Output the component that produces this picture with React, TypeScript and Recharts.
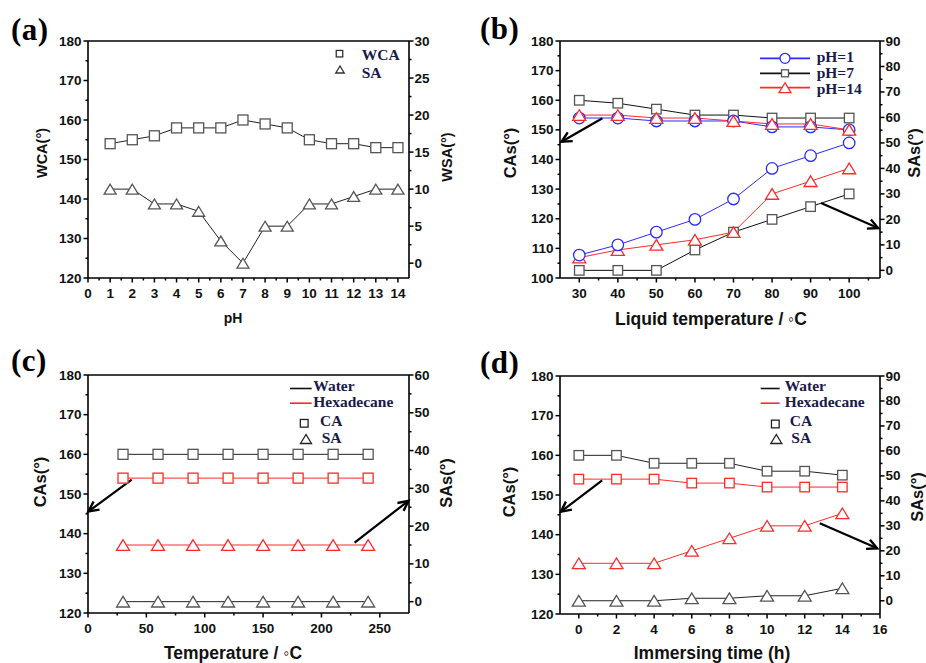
import React from "react";
import { LineChart, Line, XAxis, YAxis, ReferenceLine, Legend, Label } from "recharts";

// (a) pH
const phLevels = [1, 2, 3, 4, 5, 6, 7, 8, 9, 10, 11, 12, 13, 14];
const wcaByPh = [154, 155, 156, 158, 158, 158, 160, 159, 158, 155, 154, 154, 153, 153];
const saByPh = [10, 10, 8, 8, 7, 3, 0, 5, 5, 8, 8, 9, 10, 10];

// (b) liquid temperature
const liquidTemps = [30, 40, 50, 60, 70, 80, 90, 100];
const caPh1 = [154, 154, 153, 153, 153, 151, 151, 150];
const caPh7 = [160, 159, 157, 155, 155, 154, 154, 154];
const caPh14 = [155, 155, 154, 154, 153, 152, 152, 150];
const saPh1 = [6, 10, 15, 20, 28, 40, 45, 50];
const saPh7 = [0, 0, 0, 8, 15, 20, 25, 30];
const saPh14 = [5, 8, 10, 12, 15, 30, 35, 40];

// (c) temperature
const heatTemps = [30, 60, 90, 120, 150, 180, 210, 240];
const caWaterHeat = [160, 160, 160, 160, 160, 160, 160, 160];
const caHexHeat = [154, 154, 154, 154, 154, 154, 154, 154];
const saWaterHeat = [0, 0, 0, 0, 0, 0, 0, 0];
const saHexHeat = [15, 15, 15, 15, 15, 15, 15, 15];

// (d) immersing time
const immerseHours = [0, 2, 4, 6, 8, 10, 12, 14];
const caWaterTime = [160, 160, 158, 158, 158, 156, 156, 155];
const caHexTime = [154, 154, 154, 153, 153, 152, 152, 152];
const saWaterTime = [0, 0, 0, 1, 1, 2, 2, 5];
const saHexTime = [15, 15, 15, 20, 25, 30, 30, 35];

// tick labels (majors)
const xTicksA = [0, 1, 2, 3, 4, 5, 6, 7, 8, 9, 10, 11, 12, 13, 14];
const caTicks120 = [120, 130, 140, 150, 160, 170, 180];
const wsaTicksA = [0, 5, 10, 15, 20, 25, 30];
const xTicksB = [30, 40, 50, 60, 70, 80, 90, 100];
const caTicks100 = [100, 110, 120, 130, 140, 150, 160, 170, 180];
const saTicks90 = [0, 10, 20, 30, 40, 50, 60, 70, 80, 90];
const xTicksC = [0, 50, 100, 150, 200, 250];
const saTicks60 = [0, 10, 20, 30, 40, 50, 60];
const xTicksD = [0, 2, 4, 6, 8, 10, 12, 14, 16];

// annotation arrows [x1, y1, x2, y2] in data units
const arrowsB = { ca: [36, 153.9, 25.4, 146], sa: [92.7, 26.4, 107.5, 16.6] };
const arrowsC = { ca: [37.4, 153.6, 0.4, 145.6], sa: [228.4, 15.6, 274.5, 26.7] };
const arrowsD = { ca: [1.24, 153.7, -0.95, 145.8], sa: [12.8, 31, 15.85, 21] };

const SANS = '"Liberation Sans", Arial, sans-serif';
const SERIF = '"Liberation Serif", "Times New Roman", serif';
const INK = "#111";
const LEGEND_INK = "#1a1a4a";
const BLUE = "#2b2bff";
const RED = "#ff2a2a";
const GRAY = "#555";

const withMinors = (majors: number[]) => {
  const out = [...majors];
  for (let i = 0; i < majors.length - 1; i++) out.push((majors[i] + majors[i + 1]) / 2);
  return out;
};

const rowsA = phLevels.map((ph, i) => ({ ph, wca: wcaByPh[i], sa: saByPh[i] }));
const rowsB = liquidTemps.map((t, i) => ({
  t,
  ca1: caPh1[i],
  ca7: caPh7[i],
  ca14: caPh14[i],
  sa1: saPh1[i],
  sa7: saPh7[i],
  sa14: saPh14[i],
}));
const rowsC = heatTemps.map((t, i) => ({
  t,
  caW: caWaterHeat[i],
  caH: caHexHeat[i],
  saW: saWaterHeat[i],
  saH: saHexHeat[i],
}));
const rowsD = immerseHours.map((h, i) => ({
  h,
  caW: caWaterTime[i],
  caH: caHexTime[i],
  saW: saWaterTime[i],
  saH: saHexTime[i],
}));

type Shape = "square" | "triangle" | "circle";

function marker(shape: Shape, cx: number, cy: number, color: string, size: number, key?: string) {
  if (shape === "square")
    return (
      <rect key={key} x={cx - size / 2} y={cy - size / 2} width={size} height={size}
        fill="#fff" stroke={color} strokeWidth={1.3} />
    );
  if (shape === "circle")
    return <circle key={key} cx={cx} cy={cy} r={size / 2} fill="#fff" stroke={color} strokeWidth={1.3} />;
  const h = size * 0.82;
  return (
    <polygon key={key}
      points={`${cx},${cy - h / 2} ${cx - size / 2},${cy + h / 2} ${cx + size / 2},${cy + h / 2}`}
      fill="#fff" stroke={color} strokeWidth={1.3} strokeLinejoin="miter" />
  );
}

const dot = (shape: Shape, color: string, size: number) => (p: any) =>
  marker(shape, p.cx, p.cy, color, size, `${shape}-${p.index}`);

function axisTick(side: "left" | "right" | "bottom", majors: number[]) {
  return (p: any) => {
    const { x, y, payload } = p;
    const v = payload.value;
    const major = majors.includes(v);
    const len = major ? 4.5 : 2.5;
    const txt = { fontFamily: SANS, fontWeight: 700, fontSize: 13.5, fill: INK } as const;
    if (side === "bottom")
      return (
        <g>
          <line x1={x} y1={y} x2={x} y2={y + len} stroke="#000" strokeWidth={1.5} />
          {major && <text x={x} y={y + 15} textAnchor="middle" dominantBaseline="central" {...txt}>{v}</text>}
        </g>
      );
    if (side === "left")
      return (
        <g>
          <line x1={x - len} y1={y} x2={x} y2={y} stroke="#000" strokeWidth={1.5} />
          {major && <text x={x - 6.5} y={y} textAnchor="end" dominantBaseline="central" {...txt}>{v}</text>}
        </g>
      );
    return (
      <g>
        <line x1={x} y1={y} x2={x + len} y2={y} stroke="#000" strokeWidth={1.5} />
        {major && <text x={x + 5.5} y={y} textAnchor="start" dominantBaseline="central" {...txt}>{v}</text>}
      </g>
    );
  };
}

const arrowShape = (p: any) => {
  const { x1, y1, x2, y2 } = p;
  const a = Math.atan2(y2 - y1, x2 - x1);
  const h = 10;
  const w = 5;
  const bx = x2 - h * Math.cos(a);
  const by = y2 - h * Math.sin(a);
  const l = `${bx + w * Math.sin(a)},${by - w * Math.cos(a)}`;
  const r = `${bx - w * Math.sin(a)},${by + w * Math.cos(a)}`;
  return (
    <g>
      <line x1={x1} y1={y1} x2={x2} y2={y2} stroke="#000" strokeWidth={2.2} />
      <polyline points={`${l} ${x2},${y2} ${r}`} fill="none" stroke="#000" strokeWidth={2.4} strokeLinejoin="miter" />
    </g>
  );
};

const title = (text: string, cx: number, cy: number, size: number, rotate = false) => () => (
  <text x={cx} y={cy} textAnchor="middle" dominantBaseline="central"
    transform={rotate ? `rotate(-90 ${cx} ${cy})` : undefined}
    fontFamily={SANS} fontWeight={700} fontSize={size} fill={INK}>
    {text}
  </text>
);

const legendText = (x: number, y: number, s: string) => (
  <text x={x} y={y} fontFamily={SERIF} fontWeight={700} fontSize={15.5} fill={LEGEND_INK}>{s}</text>
);

const axisLine = { stroke: "#000", strokeWidth: 1.6 };
const tickCommon = { tickSize: 0, tickMargin: 0, tickLine: false, interval: 0 as const, axisLine };

function PanelLetter({ text, left, top }: { text: string; left: number; top: number }) {
  return (
    <div style={{ position: "absolute", left, top, fontFamily: SERIF, fontWeight: 700, fontSize: 31, lineHeight: "31px", color: "#000", letterSpacing: 0.5 }}>
      {text}
    </div>
  );
}

function PanelA() {
  return (
    <LineChart width={463} height={330} data={rowsA} margin={{ top: 41, right: 0, bottom: 0, left: 0 }}>
      <XAxis dataKey="ph" type="number" domain={[0, 14.5]} ticks={withMinors(xTicksA)} height={52}
        tick={axisTick("bottom", xTicksA)} {...tickCommon}>
        <Label content={title("pH", 233, 318, 14)} />
      </XAxis>
      <YAxis yAxisId="left" domain={[120, 180]} ticks={withMinors(caTicks120)} width={88}
        tick={axisTick("left", caTicks120)} {...tickCommon}>
        <Label content={title("WCA(°)", 42, 153, 14.5, true)} />
      </YAxis>
      <YAxis yAxisId="right" orientation="right" domain={[-2, 30]} ticks={withMinors(wsaTicksA)} width={54}
        tick={axisTick("right", wsaTicksA)} {...tickCommon}>
        <Label content={title("WSA(°)", 447, 157, 14.5, true)} />
      </YAxis>
      <ReferenceLine yAxisId="left" y={180} stroke="#000" strokeWidth={1.6} />
      <Line yAxisId="left" dataKey="wca" stroke="#222" strokeWidth={1} dot={dot("square", GRAY, 10)} isAnimationActive={false} />
      <Line yAxisId="right" dataKey="sa" stroke="#222" strokeWidth={1} dot={dot("triangle", GRAY, 12)} isAnimationActive={false} />
      <Legend layout="vertical" align="center" verticalAlign="middle"
        wrapperStyle={{ left: 330, top: 44, width: 80, height: 42 }}
        content={() => (
          <svg width={80} height={42} style={{ overflow: "visible" }}>
            {marker("square", 9.5, 9.7, "#333", 6.5)}
            {legendText(31.7, 15.5, "WCA")}
            {marker("triangle", 10, 25.5, "#333", 8.5)}
            {legendText(31.7, 33.5, "SA")}
          </svg>
        )} />
    </LineChart>
  );
}

function PanelB() {
  const rows: [string, Shape, number, number][] = [
    [BLUE, "circle", 12.3, 15.5],
    ["#111", "square", 27.3, 31.5],
    [RED, "triangle", 41.7, 47.5],
  ];
  const names = ["pH=1", "pH=7", "pH=14"];
  return (
    <LineChart width={463} height={330} data={rowsB} margin={{ top: 41, right: 0, bottom: 0, left: 0 }}>
      <XAxis dataKey="t" type="number" domain={[25, 108]} ticks={withMinors([...xTicksB, 110]).filter((v) => v < 108)} height={52}
        tick={axisTick("bottom", xTicksB)} {...tickCommon}>
        <Label content={title("Liquid temperature / ◦C", 248, 319, 17.5)} />
      </XAxis>
      <YAxis yAxisId="left" domain={[100, 180]} ticks={withMinors(caTicks100)} width={97}
        tick={axisTick("left", caTicks100)} {...tickCommon}>
        <Label content={title("CAs(°)", 47, 153, 16.5, true)} />
      </YAxis>
      <YAxis yAxisId="right" orientation="right" domain={[-3, 90]} ticks={withMinors(saTicks90)} width={46}
        tick={axisTick("right", saTicks90)} {...tickCommon}>
        <Label content={title("SAs(°)", 451, 153, 16.5, true)} />
      </YAxis>
      <ReferenceLine yAxisId="left" y={180} stroke="#000" strokeWidth={1.6} />
      <Line yAxisId="left" dataKey="ca7" stroke="#111" strokeWidth={1} dot={dot("square", GRAY, 9.5)} isAnimationActive={false} />
      <Line yAxisId="left" dataKey="ca1" stroke={BLUE} strokeWidth={1} dot={dot("circle", BLUE, 11.5)} isAnimationActive={false} />
      <Line yAxisId="left" dataKey="ca14" stroke={RED} strokeWidth={1} dot={dot("triangle", RED, 13)} isAnimationActive={false} />
      <Line yAxisId="right" dataKey="sa7" stroke="#111" strokeWidth={1} dot={dot("square", GRAY, 9.5)} isAnimationActive={false} />
      <Line yAxisId="right" dataKey="sa14" stroke={RED} strokeWidth={1} dot={dot("triangle", RED, 13)} isAnimationActive={false} />
      <Line yAxisId="right" dataKey="sa1" stroke={BLUE} strokeWidth={1} dot={dot("circle", BLUE, 11.5)} isAnimationActive={false} />
      <ReferenceLine yAxisId="left" ifOverflow="visible"
        segment={[{ x: arrowsB.ca[0], y: arrowsB.ca[1] }, { x: arrowsB.ca[2], y: arrowsB.ca[3] }]} shape={arrowShape} />
      <ReferenceLine yAxisId="right" ifOverflow="visible"
        segment={[{ x: arrowsB.sa[0], y: arrowsB.sa[1] }, { x: arrowsB.sa[2], y: arrowsB.sa[3] }]} shape={arrowShape} />
      <Legend layout="vertical" align="center" verticalAlign="middle"
        wrapperStyle={{ left: 290, top: 46, width: 130, height: 56 }}
        content={() => (
          <svg width={130} height={56} style={{ overflow: "visible" }}>
            {rows.map(([c, s, y, by], i) => (
              <g key={i}>
                <line x1={7} y1={y} x2={57} y2={y} stroke={c} strokeWidth={1.8} />
                {marker(s, 32, y, s === "square" ? GRAY : c, s === "circle" ? 10 : s === "square" ? 7 : 12)}
                {legendText(63.7, by, names[i])}
              </g>
            ))}
          </svg>
        )} />
    </LineChart>
  );
}

function WaterHexLegend({ lineX1, lineX2, sq, tri, textX, caX, saX }: any) {
  const d = 6;
  return (
    <svg width={140} height={76} style={{ overflow: "visible" }}>
      <line x1={lineX1} y1={8.5 + d} x2={lineX2} y2={8.5 + d} stroke="#111" strokeWidth={1.6} />
      {legendText(textX, 11 + d, "Water")}
      <line x1={lineX1} y1={23.2 + d} x2={lineX2} y2={23.2 + d} stroke={RED} strokeWidth={1.6} />
      {legendText(textX, 26.7 + d, "Hexadecane")}
      {marker("square", sq[0], sq[1] + d, "#222", 7.7)}
      {legendText(caX, 46.2 + d, "CA")}
      {marker("triangle", tri[0], tri[1] + d, "#222", 11)}
      {legendText(saX, 62.8 + d, "SA")}
    </svg>
  );
}

function PanelC() {
  return (
    <LineChart width={463} height={333} data={rowsC} margin={{ top: 45, right: 0, bottom: 0, left: 0 }}>
      <XAxis dataKey="t" type="number" domain={[0, 275]} ticks={withMinors(xTicksC)} height={50}
        tick={axisTick("bottom", xTicksC)} {...tickCommon}>
        <Label content={title("Temperature / ◦C", 233, 323, 17.5)} />
      </XAxis>
      <YAxis yAxisId="left" domain={[120, 180]} ticks={withMinors(caTicks120)} width={88}
        tick={axisTick("left", caTicks120)} {...tickCommon}>
        <Label content={title("CAs(°)", 40, 152, 16.5, true)} />
      </YAxis>
      <YAxis yAxisId="right" orientation="right" domain={[-3, 60]} ticks={withMinors(saTicks60)} width={54}
        tick={axisTick("right", saTicks60)} {...tickCommon}>
        <Label content={title("SAs(°)", 446, 153, 16.5, true)} />
      </YAxis>
      <ReferenceLine yAxisId="left" y={180} stroke="#000" strokeWidth={1.6} />
      <Line yAxisId="left" dataKey="caW" stroke="#222" strokeWidth={1} dot={dot("square", GRAY, 10)} isAnimationActive={false} />
      <Line yAxisId="left" dataKey="caH" stroke={RED} strokeWidth={1} dot={dot("square", RED, 10)} isAnimationActive={false} />
      <Line yAxisId="right" dataKey="saW" stroke="#222" strokeWidth={1} dot={dot("triangle", GRAY, 13)} isAnimationActive={false} />
      <Line yAxisId="right" dataKey="saH" stroke={RED} strokeWidth={1} dot={dot("triangle", RED, 13)} isAnimationActive={false} />
      <ReferenceLine yAxisId="left" ifOverflow="visible"
        segment={[{ x: arrowsC.ca[0], y: arrowsC.ca[1] }, { x: arrowsC.ca[2], y: arrowsC.ca[3] }]} shape={arrowShape} />
      <ReferenceLine yAxisId="right" ifOverflow="visible"
        segment={[{ x: arrowsC.sa[0], y: arrowsC.sa[1] }, { x: arrowsC.sa[2], y: arrowsC.sa[3] }]} shape={arrowShape} />
      <Legend layout="vertical" align="center" verticalAlign="middle"
        wrapperStyle={{ left: 285, top: 44, width: 140, height: 76 }}
        content={() => (
          <WaterHexLegend lineX1={5} lineX2={26.7} textX={28.3} sq={[19.2, 43.3]} tri={[21, 59]} caX={35} saX={36.7} />
        )} />
    </LineChart>
  );
}

function PanelD() {
  return (
    <LineChart width={463} height={333} data={rowsD} margin={{ top: 46, right: 0, bottom: 0, left: 0 }}>
      <XAxis dataKey="h" type="number" domain={[-1, 16]} ticks={withMinors(xTicksD)} height={49}
        tick={axisTick("bottom", xTicksD)} {...tickCommon}>
        <Label content={title("Immersing time (h)", 249, 323, 17.5)} />
      </XAxis>
      <YAxis yAxisId="left" domain={[120, 180]} ticks={withMinors(caTicks120)} width={97}
        tick={axisTick("left", caTicks120)} {...tickCommon}>
        <Label content={title("CAs(°)", 46, 162, 16.5, true)} />
      </YAxis>
      <YAxis yAxisId="right" orientation="right" domain={[-5.3, 90]} ticks={withMinors(saTicks90)} width={46}
        tick={axisTick("right", saTicks90)} {...tickCommon}>
        <Label content={title("SAs(°)", 454, 167, 16.5, true)} />
      </YAxis>
      <ReferenceLine yAxisId="left" y={180} stroke="#000" strokeWidth={1.6} />
      <Line yAxisId="left" dataKey="caW" stroke="#222" strokeWidth={1} dot={dot("square", GRAY, 9.5)} isAnimationActive={false} />
      <Line yAxisId="left" dataKey="caH" stroke={RED} strokeWidth={1} dot={dot("square", RED, 9.5)} isAnimationActive={false} />
      <Line yAxisId="right" dataKey="saW" stroke="#222" strokeWidth={1} dot={dot("triangle", GRAY, 13)} isAnimationActive={false} />
      <Line yAxisId="right" dataKey="saH" stroke={RED} strokeWidth={1} dot={dot("triangle", RED, 13)} isAnimationActive={false} />
      <ReferenceLine yAxisId="left" ifOverflow="visible"
        segment={[{ x: arrowsD.ca[0], y: arrowsD.ca[1] }, { x: arrowsD.ca[2], y: arrowsD.ca[3] }]} shape={arrowShape} />
      <ReferenceLine yAxisId="right" ifOverflow="visible"
        segment={[{ x: arrowsD.sa[0], y: arrowsD.sa[1] }, { x: arrowsD.sa[2], y: arrowsD.sa[3] }]} shape={arrowShape} />
      <Legend layout="vertical" align="center" verticalAlign="middle"
        wrapperStyle={{ left: 292, top: 44, width: 140, height: 76 }}
        content={() => (
          <WaterHexLegend lineX1={5.7} lineX2={24.7} textX={29.7} sq={[20.3, 44]} tri={[21.3, 59]} caX={34.7} saX={36.3} />
        )} />
    </LineChart>
  );
}

export default function App() {
  return (
    <div style={{ position: "absolute", left: 0, top: 0, width: 926, height: 663, background: "#fff", overflow: "hidden" }}>
      <div style={{ position: "absolute", left: 0, top: 0 }}><PanelA /></div>
      <div style={{ position: "absolute", left: 463, top: 0 }}><PanelB /></div>
      <div style={{ position: "absolute", left: 0, top: 330 }}><PanelC /></div>
      <div style={{ position: "absolute", left: 463, top: 330 }}><PanelD /></div>
      <PanelLetter text="(a)" left={11} top={14} />
      <PanelLetter text="(b)" left={480} top={13} />
      <PanelLetter text="(c)" left={11} top={345} />
      <PanelLetter text="(d)" left={480} top={347} />
    </div>
  );
}
